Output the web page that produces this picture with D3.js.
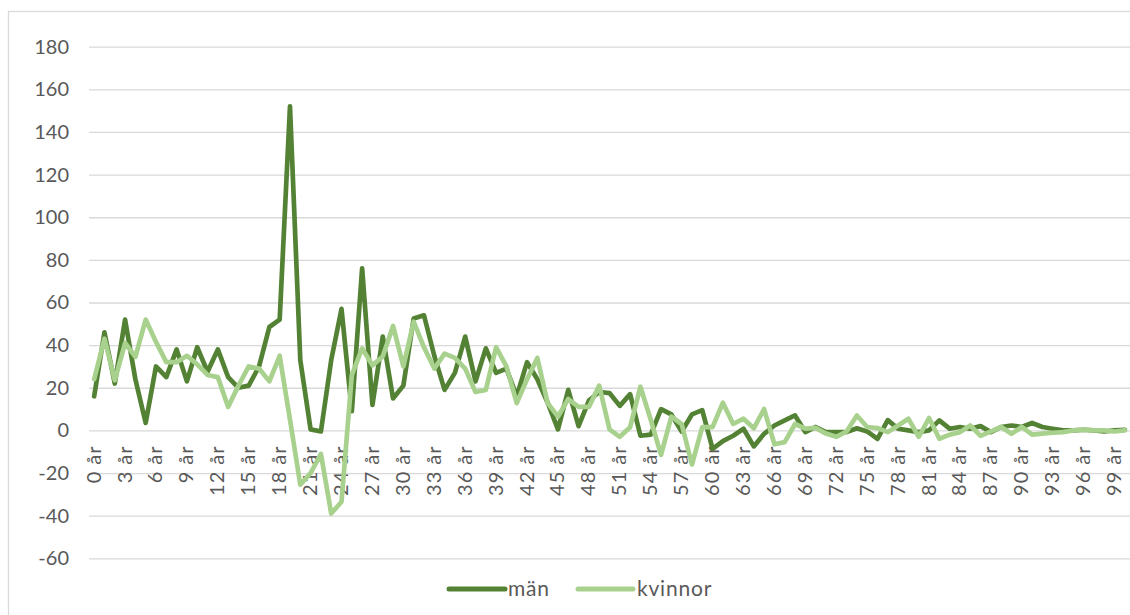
<!DOCTYPE html>
<html>
<head>
<meta charset="utf-8">
<script src="https://cdn.jsdelivr.net/npm/d3@7"></script>
<style>
  html, body { margin: 0; padding: 0; background: #ffffff; }
  svg { display: block; }
  text { font-family: Lato, "Noto Sans", sans-serif; fill: #595959; }
</style>
</head>
<body>
<svg id="chart" width="1130" height="615"></svg>
<script>
// ---- data ----
const categories = d3.range(0, 101).map(a => a + " år");
const tickLabels = ["0 år","3 år","6 år","9 år","12 år","15 år","18 år","21 år","24 år","27 år","30 år","33 år","36 år","39 år","42 år","45 år","48 år","51 år","54 år","57 år","60 år","63 år","66 år","69 år","72 år","75 år","78 år","81 år","84 år","87 år","90 år","93 år","96 år","99 år"];
const yTicks = [-60, -40, -20, 0, 20, 40, 60, 80, 100, 120, 140, 160, 180];
const seriesNames = ["män", "kvinnor"];
const man = [16,46,22,52,24,3.5,30,25,38,23,39,27.5,38,25,20,21,30,48.5,52,152,
  33,0.5,-0.5,33,57,9,76,12,44,15,21,52.5,54,35,19,27,44,23,38.5,27,
  29,16,32,24,13,0.5,19,2,14,18,17.5,11.5,17,-2.5,-2,10,7.5,-0.5,7.5,9.5,
  -8.7,-5,-2.5,0.8,-7.5,-1.6,2.3,4.7,7,-0.8,1.6,-0.8,-0.8,-0.8,1,-0.5,-4,4.8,0.8,0,
  -0.8,0,4.7,0.8,1.6,0.8,2,-0.8,1.6,2.3,1.6,3.5,1.6,0.8,0,0,0.3,0,-0.5,0,0.3];
const kvinnor = [24,43,23.5,41,34.5,52,41.5,32,32,35,31,26,25,11,21,30,29,23,35,5,
  -25.5,-20,-11,-39,-33.5,26,38.5,30.5,34.7,49,30,51,39,29,36,34,29,18,19,39,
  30,12.8,24,34,12.8,6.5,14.7,11,11,21,0.5,-3,1.5,20.5,5,-11.5,6.5,3,-16,1.5,
  1.5,13,3,5.5,1,10,-6.5,-5.5,3,0.8,1.2,-1.5,-3,-0.5,7,1.6,1.1,-0.8,2.3,5.5,
  -3,5.8,-3.9,-2,-0.8,2.3,-2.6,-0.5,1.6,-1.6,1.6,-2,-1.5,-1.1,-0.8,0,0.3,0,0,-0.5,0];
const colors = ["#548235", "#A9D18E"];

// ---- layout ----
const svg = d3.select("#chart");
const plotLeft = 89, plotRight = 1130, plotTop = 46.7, plotBottom = 558.3;

svg.append("rect")
  .attr("x", 8.5).attr("y", 11.5)
  .attr("width", 1200).attr("height", 700)
  .attr("fill", "#ffffff").attr("stroke", "#d9d9d9").attr("stroke-width", 1.3);

const x = d3.scalePoint().domain(categories).range([plotLeft, plotRight]).padding(0.5);
const y = d3.scaleLinear().domain([-60, 180]).range([plotBottom, plotTop]);

// y axis + gridlines
const yAxis = svg.append("g")
  .attr("transform", `translate(${plotLeft},0)`)
  .call(d3.axisLeft(y).tickValues(yTicks).tickSize(-(plotRight - plotLeft)).tickPadding(20).tickFormat(d => String(d)));
yAxis.select(".domain").remove();
yAxis.selectAll(".tick line").attr("stroke", "#d9d9d9").attr("stroke-width", 1.3);
yAxis.selectAll(".tick text")
  .style("font-family", "Lato, 'Noto Sans', sans-serif")
  .style("font-size", "20px").attr("fill", "#595959");

// x axis labels
const xAxis = svg.append("g")
  .attr("transform", `translate(0,${y(0)})`)
  .call(d3.axisBottom(x).tickValues(tickLabels).tickSize(0));
xAxis.select(".domain").remove();
xAxis.selectAll(".tick text")
  .style("font-family", "Lato, 'Noto Sans', sans-serif")
  .style("font-size", "20px")
  .style("letter-spacing", "1px").attr("fill", "#595959")
  .attr("transform", "rotate(-90)")
  .attr("text-anchor", "end")
  .attr("x", -15).attr("y", -1).attr("dy", "0.35em");

// lines
const line = d3.line()
  .x((d, i) => x(categories[i]))
  .y(d => y(d));

[man, kvinnor].forEach((vals, k) => {
  svg.append("path")
    .datum(vals)
    .attr("fill", "none")
    .attr("stroke", colors[k])
    .attr("stroke-width", 4.7)
    .attr("stroke-linejoin", "round")
    .attr("stroke-linecap", "round")
    .attr("d", line);
});

// legend
const legendItems = [
  { x0: 449, x1: 505, tx: 508 },
  { x0: 578, x1: 633, tx: 637 }
];
legendItems.forEach((it, k) => {
  svg.append("line")
    .attr("x1", it.x0).attr("x2", it.x1)
    .attr("y1", 589).attr("y2", 589)
    .attr("stroke", colors[k]).attr("stroke-width", 5)
    .attr("stroke-linecap", "round");
  svg.append("text")
    .attr("x", it.tx).attr("y", 589).attr("dy", "0.35em")
    .style("font-size", "21px")
    .style("letter-spacing", "0.8px")
    .text(seriesNames[k]);
});
</script>
</body>
</html>
